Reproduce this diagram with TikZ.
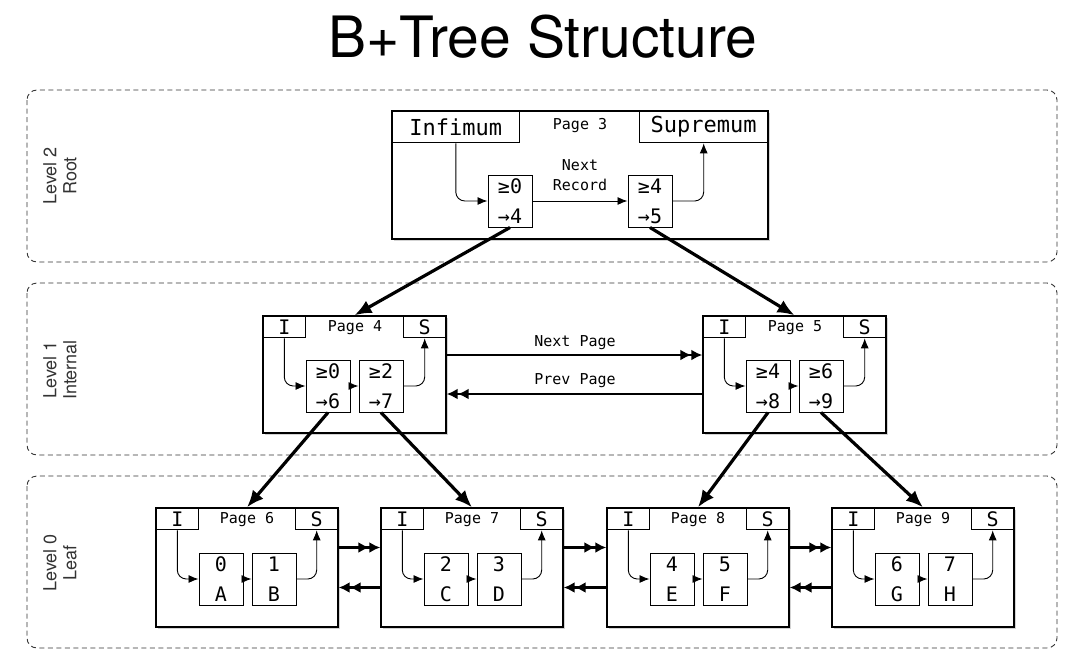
\documentclass[tikz,border=0pt]{standalone}
\usepackage{fontspec}
\setmainfont{TeX Gyre Heros}
\setmonofont{DejaVu Sans Mono}
\usetikzlibrary{arrows.meta,shadows}

\tikzset{
  band/.style={draw=black!80, dash pattern=on 5pt off 3.5pt, line width=0.9pt, rounded corners=10pt},
  lvl/.style={rotate=90, align=center, text=black!80, font=\fontsize{18}{20}\selectfont},
  pagebox/.style={draw, line width=1.4pt, fill=white, inner sep=0pt,
    drop shadow={shadow xshift=1.5pt, shadow yshift=-1.5pt, opacity=0.35}},
  hdr/.style={draw, line width=1pt, inner sep=0pt, minimum height=22pt, minimum width=43pt,
    font=\ttfamily\fontsize{20}{22}\selectfont},
  rec/.style={draw, line width=1pt, inner sep=0pt, minimum width=44pt, minimum height=52pt,
    align=center, font=\ttfamily\fontsize{20}{30}\selectfont},
  lbl/.style={align=center, font=\ttfamily\fontsize{15}{20}\selectfont},
  link/.style={-{Latex[length=10pt,width=8pt]}, line width=0.9pt, rounded corners=9pt},
  child/.style={-{Latex[length=17pt,width=14pt]}, line width=3.2pt},
  sib/.style={-{Latex[length=11pt,width=11pt] Latex[length=11pt,width=11pt]}, line width=2.6pt},
}

\begin{document}
\begin{tikzpicture}[x=1pt,y=-1pt]
    \useasboundingbox (0,0) rectangle (1066,656);
    \node[font=\fontsize{57}{60}\selectfont] (title) at (543,37) {B+Tree Structure};

    % levels
    \draw[band] (27,90) rectangle (1057,262);
    \draw[band] (27,283) rectangle (1057,455);
    \draw[band] (27,476) rectangle (1057,648);
    \node[lvl] (lvl2) at (60,176) {Level 2\\Root};
    \node[lvl] (lvl1) at (60,370) {Level 1\\Internal};
    \node[lvl] (lvl0) at (60,563) {Level 0\\Leaf};

    % root page
    \node[pagebox, minimum width=376pt, minimum height=128pt] (p3) at (580,175) {};
    \node[hdr, anchor=north west, minimum width=128pt, minimum height=32pt,
      font=\ttfamily\fontsize{22}{24}\selectfont] (inf) at (p3.north west) {Infimum};
    \node[hdr, anchor=north east, minimum width=129pt, minimum height=32pt,
      font=\ttfamily\fontsize{22}{24}\selectfont] (sup) at (p3.north east) {Supremum};
    \node[lbl] (t3) at (580,126) {Page 3};
    \node[rec] (ra3) at (510,201) {≥0\\→4};
    \node[rec] (rb3) at (650,201) {≥4\\→5};
    \node[lbl] (nr) at (580,175) {Next\\Record};
    \draw[link] (inf.south) |- (ra3.west);
    \draw[link] (ra3.east) -- (rb3.west);
    \draw[link] (rb3.east) -| (sup.south);

    % internal pages
    \foreach \n/\L/\a/\b in {4/263/{≥0\\→6}/{≥2\\→7}, 5/703/{≥4\\→8}/{≥6\\→9}} {
        \node[pagebox, minimum width=183pt, minimum height=117pt] (p\n) at ({\L+91.5},374.5) {};
        \node[hdr, anchor=north west] (i\n) at (p\n.north west) {I};
        \node[hdr, anchor=north east] (s\n) at (p\n.north east) {S};
        \node[lbl] (t\n) at ({\L+92},328) {Page \n};
        \node[rec] (ra\n) at ({\L+65},386) {\a};
        \node[rec] (rb\n) at ({\L+118},386) {\b};
        \draw[link] (i\n.south) |- (ra\n.west);
        \draw[link] (ra\n.east) -- (rb\n.west);
        \draw[link] (rb\n.east) -| (s\n.south);
    }
    \draw[sib] ([yshift=19.5pt]p4.east) -- ([yshift=19.5pt]p5.west);
    \draw[sib] ([yshift=-19.5pt]p5.west) -- ([yshift=-19.5pt]p4.east);
    \node[lbl] (np) at (575,343) {Next Page};
    \node[lbl] (pp) at (575,381) {Prev Page};

    % leaf pages
    \foreach \n/\L/\a/\b in {6/156/{0\\A}/{1\\B}, 7/381/{2\\C}/{3\\D}, 8/607/{4\\E}/{5\\F}, 9/832/{6\\G}/{7\\H}} {
        \node[pagebox, minimum width=182pt, minimum height=119pt] (p\n) at ({\L+91},567.5) {};
        \node[hdr, anchor=north west] (i\n) at (p\n.north west) {I};
        \node[hdr, anchor=north east] (s\n) at (p\n.north east) {S};
        \node[lbl] (t\n) at ({\L+91},520) {Page \n};
        \node[rec] (ra\n) at ({\L+65},579) {\a};
        \node[rec] (rb\n) at ({\L+118},579) {\b};
        \draw[link] (i\n.south) |- (ra\n.west);
        \draw[link] (ra\n.east) -- (rb\n.west);
        \draw[link] (rb\n.east) -| (s\n.south);
    }
    \foreach \u/\v in {6/7, 7/8, 8/9} {
        \draw[sib] ([yshift=20pt]p\u.east) -- ([yshift=20pt]p\v.west);
        \draw[sib] ([yshift=-20pt]p\v.west) -- ([yshift=-20pt]p\u.east);
    }

    % children
    \draw[child] (ra3.south) -- (p4.north);
    \draw[child] (rb3.south) -- (p5.north);
    \draw[child] (ra4.south) -- (p6.north);
    \draw[child] (rb4.south) -- (p7.north);
    \draw[child] (ra5.south) -- (p8.north);
    \draw[child] (rb5.south) -- (p9.north);
\end{tikzpicture}
\end{document}
